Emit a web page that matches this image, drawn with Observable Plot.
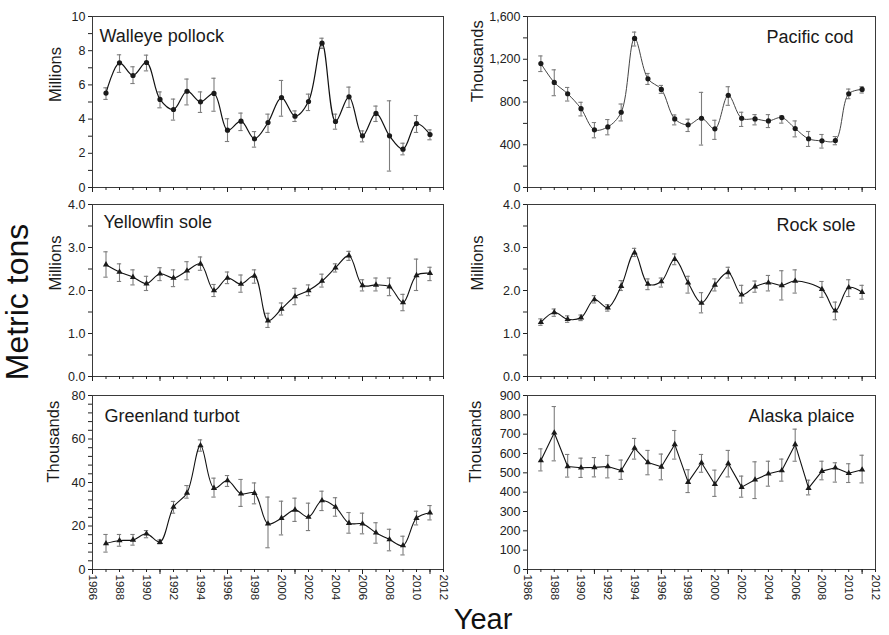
<!DOCTYPE html>
<html>
<head>
<meta charset="utf-8">
<script src="https://cdn.jsdelivr.net/npm/d3@7"></script>
<script src="https://cdn.jsdelivr.net/npm/@observablehq/plot@0.6"></script>
<style>
  html, body { margin: 0; padding: 0; background: #fff; }
  #wrap { position: relative; width: 889px; height: 635px; overflow: hidden; font-family: "Liberation Sans", Arial, sans-serif; }
  .cell { position: absolute; }
  .big { position: absolute; font-family: "Liberation Sans Narrow", "Liberation Sans", Arial, sans-serif; color: #111; white-space: nowrap; }
</style>
</head>
<body>
<div id="wrap"></div>
<script>
// ---------- data ----------
const years = [1987,1988,1989,1990,1991,1992,1993,1994,1995,1996,1997,1998,1999,2000,2001,2002,2003,2004,2005,2006,2007,2008,2009,2010,2011];
const rockYears = [1987,1988,1989,1990,1991,1992,1993,1994,1995,1996,1997,1998,1999,2000,2001,2002,2003,2004,2005,2006,2008,2009,2010,2011];

const pollockMean = [5.52,7.29,6.55,7.31,5.15,4.56,5.63,5.01,5.50,3.35,3.88,2.85,3.80,5.26,4.17,5.03,8.44,3.86,5.30,3.02,4.33,3.02,2.24,3.74,3.10];
const pollockLo   = [5.15,6.73,6.08,6.82,4.66,3.94,4.83,4.39,4.46,2.69,3.33,2.36,3.22,4.17,3.86,4.50,8.13,3.41,4.68,2.67,3.86,0.96,1.91,3.22,2.79];
const pollockHi   = [5.83,7.76,7.06,7.74,5.59,5.17,6.34,5.59,6.39,4.02,4.35,3.27,4.29,6.26,4.48,5.46,8.73,4.29,5.87,3.31,4.76,5.07,2.59,4.21,3.37];

const codMean = [1160,983,877,738,540,567,704,1395,1017,918,642,586,648,549,862,648,642,623,654,552,456,437,440,877,918];
const codLo   = [1085,859,809,670,465,493,623,1324,964,881,586,524,397,450,769,571,586,561,602,474,384,369,400,831,884];
const codHi   = [1231,1101,936,797,608,636,781,1454,1067,955,679,639,890,629,943,704,682,682,670,623,524,496,477,921,943];

const yfsMean = [2.60,2.43,2.31,2.16,2.39,2.29,2.46,2.62,2.00,2.29,2.15,2.34,1.30,1.57,1.86,2.00,2.22,2.53,2.81,2.12,2.13,2.09,1.72,2.35,2.40];
const yfsLo   = [2.31,2.21,2.13,2.00,2.23,2.09,2.25,2.47,1.86,2.16,1.96,2.17,1.14,1.43,1.67,1.88,2.08,2.43,2.70,1.99,1.99,1.88,1.53,2.00,2.23];
const yfsHi   = [2.90,2.62,2.48,2.33,2.53,2.48,2.67,2.78,2.14,2.43,2.36,2.48,1.47,1.71,2.05,2.13,2.38,2.62,2.91,2.25,2.29,2.29,1.91,2.73,2.54];

const rockMean = [1.26,1.49,1.33,1.37,1.79,1.60,2.10,2.88,2.15,2.21,2.73,2.18,1.71,2.13,2.42,1.90,2.09,2.18,2.12,2.22,2.03,1.53,2.07,1.96];
const rockLo   = [1.19,1.40,1.26,1.30,1.71,1.52,2.00,2.79,2.02,2.08,2.60,1.94,1.48,1.99,2.29,1.71,1.96,1.99,1.78,1.94,1.84,1.32,1.86,1.80];
const rockHi   = [1.34,1.57,1.41,1.43,1.88,1.67,2.23,2.98,2.27,2.29,2.85,2.33,1.95,2.27,2.54,2.12,2.22,2.35,2.46,2.48,2.21,1.73,2.25,2.12];

const gtMean = [11.95,13.3,13.6,16.4,12.6,28.7,35.2,57.0,37.4,40.9,34.8,35.1,21.0,23.6,27.4,24.1,31.7,28.7,21.3,21.0,16.9,13.8,11.0,23.6,26.1];
const gtLo   = [8.0,10.7,11.2,14.6,11.8,25.9,32.8,54.4,33.3,38.2,29.0,30.2,10.0,15.9,22.1,17.9,27.1,24.5,16.7,16.4,12.1,8.6,6.7,20.5,22.8];
const gtHi   = [16.1,16.1,16.1,17.9,13.6,31.3,38.6,59.6,42.0,43.2,41.4,39.8,33.3,31.4,32.8,30.5,36.0,33.0,26.2,25.9,21.5,18.5,15.3,26.8,29.4];

const apMean = [564,707,533,526,528,533,512,628,553,531,647,452,552,441,548,426,464,495,512,647,421,509,526,498,516];
const apLo   = [510,562,478,476,479,474,466,571,490,464,571,398,503,378,479,374,367,431,457,560,386,464,452,450,448];
const apHi   = [624,843,595,576,579,590,566,678,616,597,719,516,595,514,616,483,557,560,571,726,462,560,552,547,591];

// tick labels
const xAllTicks  = [1986,1987,1988,1989,1990,1991,1992,1993,1994,1995,1996,1997,1998,1999,2000,2001,2002,2003,2004,2005,2006,2007,2008,2009,2010,2011,2012];
const xLongTicks = [1986,1991,1996,2001,2006,2011];
const xLabelTicks = [1986,1988,1990,1992,1994,1996,1998,2000,2002,2004,2006,2008,2010,2012];

// ---------- panel builder ----------
function panel(o) {
  const data = o.years.map((x, i) => ({x, y: o.mean[i], lo: o.lo[i], hi: o.hi[i]}));
  const capHalf = 0.16;
  const marks = [
    Plot.frame({stroke: "#3a3a3a", strokeWidth: 1}),
    Plot.axisY(o.yMinor, {tickSize: 4, tickFormat: () => "", label: null, stroke: "#222"}),
    Plot.axisY(o.yTicks, {tickSize: 4, tickPadding: 3, tickFormat: o.yFormat, label: null, fontSize: 12.5, fill: "#222", stroke: "#222"}),
    Plot.axisX(xAllTicks, {tickSize: 3, tickFormat: () => "", label: null, stroke: "#222"}),
    Plot.axisX(xLongTicks, {tickSize: 5, tickFormat: () => "", label: null, stroke: "#222"}),
    Plot.ruleX(data, {x: "x", y1: "lo", y2: "hi", stroke: "#7d7d7d", strokeWidth: 1.1}),
    Plot.ruleY(data, {y: "lo", x1: d => d.x - capHalf, x2: d => d.x + capHalf, stroke: "#7d7d7d", strokeWidth: 1.1}),
    Plot.ruleY(data, {y: "hi", x1: d => d.x - capHalf, x2: d => d.x + capHalf, stroke: "#7d7d7d", strokeWidth: 1.1}),
    Plot.line(data, {x: "x", y: "y", curve: o.curve, stroke: o.lineColor, strokeWidth: o.lineWidth}),
    Plot.dot(data, {x: "x", y: "y", symbol: o.symbol, r: o.symbol === "circle" ? 2.6 : 2.3, fill: "#1a1a1a", stroke: "none"}),
    Plot.text([o.title], {frameAnchor: o.titleSide === "left" ? "top-left" : "top-right",
      dx: o.titleSide === "left" ? o.titleDx : -o.titleDx, dy: o.titleDy, lineAnchor: "top",
      fontSize: 18, fill: "#1a1a1a"}),
    Plot.text([o.yLabel], {frameAnchor: "left", rotate: -90, dx: -o.labelOffset, fontSize: 16.5, fill: "#1a1a1a"})
  ];
  if (o.showXLabels) {
    marks.push(Plot.axisX(xLabelTicks, {tickSize: 0, tickPadding: 5, tickRotate: 90, tickFormat: d => String(d), label: null, fontSize: 11.5, fill: "#222"}));
  }
  return Plot.plot({
    width: o.width, height: o.height,
    marginLeft: o.ml, marginRight: o.mr, marginTop: o.mt, marginBottom: o.mb,
    x: {domain: [1986, 2012]},
    y: {domain: o.yDomain},
    style: {fontFamily: "'Liberation Sans', Arial, sans-serif", fontSize: "12px", background: "transparent", overflow: "visible"},
    marks
  });
}

const wrap = document.getElementById("wrap");
function place(node, left, top) {
  const d = document.createElement("div");
  d.className = "cell";
  d.style.left = left + "px";
  d.style.top = top + "px";
  d.appendChild(node);
  wrap.appendChild(d);
}

const L = {left: 0, width: 445, ml: 92, mr: 2};
const R = {left: 445, width: 444, ml: 82, mr: 14};
const rows = [
  {top: 0, height: 200, mt: 16, mb: 13},
  {top: 200, height: 190, mt: 4, mb: 14},
  {top: 390, height: 245, mt: 5, mb: 66}
];

const fmt1 = d3.format(".1f");
const fmtC = d3.format(",");
const fmt0 = d3.format("d");

const specs = [
  {col: L, row: 0, years, mean: pollockMean, lo: pollockLo, hi: pollockHi, yDomain: [0, 10],
   yTicks: [0,2,4,6,8,10], yMinor: [1,3,5,7,9], yFormat: fmt0, yLabel: "Millions", labelOffset: 37,
   title: "Walleye pollock", titleSide: "left", titleDx: 7, titleDy: 13, symbol: "circle", curve: "catmull-rom", lineColor: "#111", lineWidth: 1.2},
  {col: R, row: 0, years, mean: codMean, lo: codLo, hi: codHi, yDomain: [0, 1600],
   yTicks: [0,400,800,1200,1600], yMinor: [200,600,1000,1400], yFormat: fmtC, yLabel: "Thousands", labelOffset: 50,
   title: "Pacific cod", titleSide: "right", titleDx: 22, titleDy: 14, symbol: "circle", curve: "catmull-rom", lineColor: "#444", lineWidth: 1},
  {col: L, row: 1, years, mean: yfsMean, lo: yfsLo, hi: yfsHi, yDomain: [0, 4],
   yTicks: [0,1,2,3,4], yMinor: [0.5,1.5,2.5,3.5], yFormat: fmt1, yLabel: "Millions", labelOffset: 37,
   title: "Yellowfin sole", titleSide: "left", titleDx: 11, titleDy: 11, symbol: "triangle", curve: "catmull-rom", lineColor: "#111", lineWidth: 1.1},
  {col: R, row: 1, years: rockYears, mean: rockMean, lo: rockLo, hi: rockHi, yDomain: [0, 4],
   yTicks: [0,1,2,3,4], yMinor: [0.5,1.5,2.5,3.5], yFormat: fmt1, yLabel: "Millions", labelOffset: 50,
   title: "Rock sole", titleSide: "right", titleDx: 20, titleDy: 14, symbol: "triangle", curve: "catmull-rom", lineColor: "#111", lineWidth: 1.1},
  {col: L, row: 2, years, mean: gtMean, lo: gtLo, hi: gtHi, yDomain: [0, 80],
   yTicks: [0,20,40,60,80], yMinor: [4,8,12,16,24,28,32,36,44,48,52,56,64,68,72,76], yFormat: fmt0, yLabel: "Thousands", labelOffset: 39,
   title: "Greenland turbot", titleSide: "left", titleDx: 12, titleDy: 14, symbol: "triangle", curve: "catmull-rom", lineColor: "#111", lineWidth: 1.1},
  {col: R, row: 2, years, mean: apMean, lo: apLo, hi: apHi, yDomain: [0, 900],
   yTicks: [0,100,200,300,400,500,600,700,800,900], yMinor: [], yFormat: fmt0, yLabel: "Thousands", labelOffset: 52,
   title: "Alaska plaice", titleSide: "right", titleDx: 21, titleDy: 14, symbol: "triangle", curve: "linear", lineColor: "#111", lineWidth: 1.1}
];

for (const s of specs) {
  const r = rows[s.row];
  const node = panel({...s, width: s.col.width, height: r.height, ml: s.col.ml, mr: s.col.mr, mt: r.mt, mb: r.mb, showXLabels: s.row === 2});
  place(node, s.col.left, r.top);
}

// shared labels
const yLab = document.createElement("div");
yLab.className = "big";
yLab.textContent = "Metric tons";
yLab.style.fontSize = "32px";
yLab.style.left = "17px";
yLab.style.top = "302px";
yLab.style.transform = "translate(-50%, -50%) rotate(-90deg)";
wrap.appendChild(yLab);

const xLab = document.createElement("div");
xLab.className = "big";
xLab.textContent = "Year";
xLab.style.fontSize = "29px";
xLab.style.left = "483px";
xLab.style.top = "619px";
xLab.style.transform = "translate(-50%, -50%)";
wrap.appendChild(xLab);
</script>
</body>
</html>
